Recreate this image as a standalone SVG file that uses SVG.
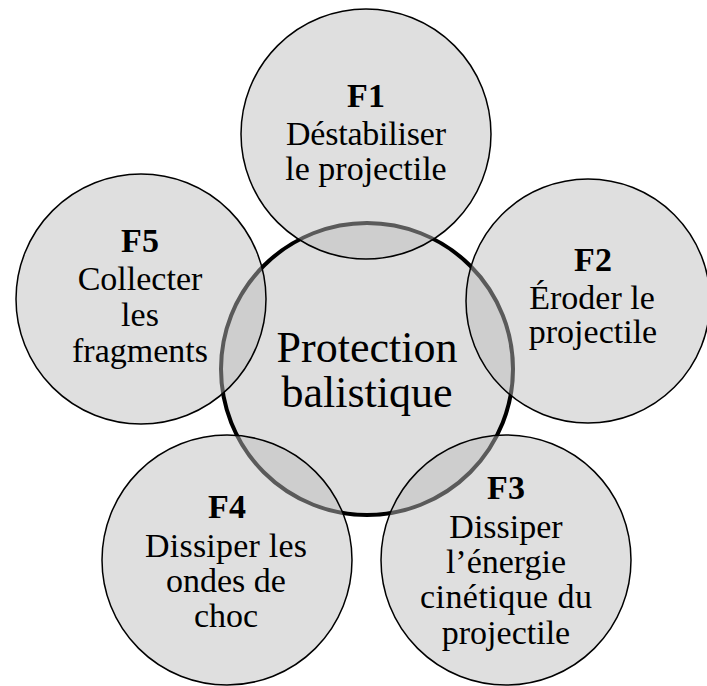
<svg xmlns="http://www.w3.org/2000/svg" width="707" height="686" viewBox="0 0 707 686">
<style>
.center{fill:#dedede;stroke:#000;stroke-width:4}
.outer{fill:rgba(188,188,188,0.48);stroke:#000;stroke-width:1.5}
text{font-family:"Liberation Serif","Times New Roman",serif;fill:#000;text-anchor:middle}
.t{font-size:34px}
.b{font-size:34px;font-weight:bold}
.c{font-size:44px}
</style>
<rect width="707" height="686" fill="#fff"/>
<g id="center">
<circle class="center" cx="367" cy="369" r="146"/>
<text class="c" x="367" y="362">Protection</text>
<text class="c" x="367" y="407">balistique</text>
</g>
<g id="F1">
<circle class="outer" cx="366" cy="134" r="125"/>
<text class="b" x="366" y="107">F1</text>
<text class="t" x="366" y="145" textLength="160">Déstabiliser</text>
<text class="t" x="366" y="180">le projectile</text>
</g>
<g id="F2">
<circle class="outer" cx="588" cy="301" r="122"/>
<text class="b" x="593" y="271">F2</text>
<text class="t" x="592" y="309">Éroder le</text>
<text class="t" x="593" y="343">projectile</text>
</g>
<g id="F3">
<circle class="outer" cx="506" cy="560" r="125"/>
<text class="b" x="506" y="499">F3</text>
<text class="t" x="506" y="538">Dissiper</text>
<text class="t" x="506" y="573">l’énergie</text>
<text class="t" x="506" y="608" textLength="172">cinétique du</text>
<text class="t" x="506" y="644">projectile</text>
</g>
<g id="F4">
<circle class="outer" cx="227" cy="560" r="125"/>
<text class="b" x="227" y="518">F4</text>
<text class="t" x="226" y="557" textLength="162">Dissiper les</text>
<text class="t" x="226" y="592">ondes de</text>
<text class="t" x="226" y="627">choc</text>
</g>
<g id="F5">
<circle class="outer" cx="141" cy="299" r="125"/>
<text class="b" x="140" y="252">F5</text>
<text class="t" x="140" y="290">Collecter</text>
<text class="t" x="140" y="326">les</text>
<text class="t" x="140" y="362">fragments</text>
</g>
<g id="connectors"></g>
</svg>
